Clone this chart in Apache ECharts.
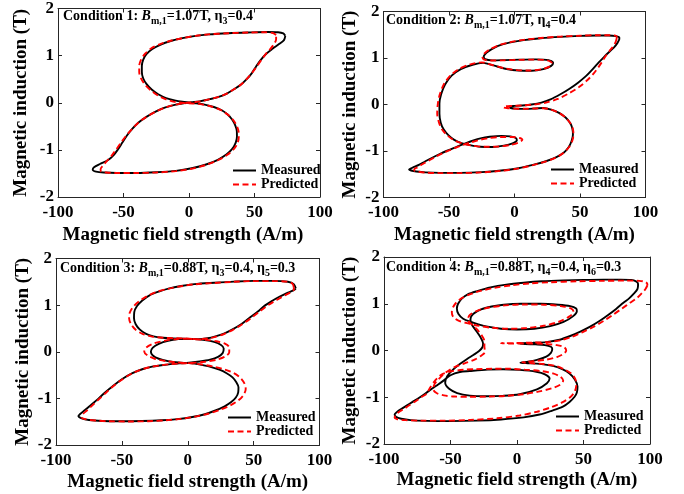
<!DOCTYPE html>
<html><head><meta charset="utf-8">
<script src="https://cdn.jsdelivr.net/npm/echarts@6/dist/echarts.min.js"></script>
<style>html,body{margin:0;padding:0;background:#fff;}#c{width:684px;height:494px;}</style>
</head><body><div id="c"></div>
<script>
// ---- tick values ----
const xTickValues = [-100, -50, 0, 50, 100];
const yTickValues = [-2, -1, 0, 1, 2];
const seriesNames = ['Measured', 'Predicted'];
const conditionTexts = [
  '{a|Condition 1: }{i|B}{s|m,1}{a|=1.07T, η}{s|3}{a|=0.4}',
  '{a|Condition 2: }{i|B}{s|m,1}{a|=1.07T, η}{s|4}{a|=0.4}',
  '{a|Condition 3: }{i|B}{s|m,1}{a|=0.88T, η}{s|3}{a|=0.4, η}{s|5}{a|=0.3}',
  '{a|Condition 4: }{i|B}{s|m,1}{a|=0.88T, η}{s|4}{a|=0.4, η}{s|6}{a|=0.3}'
];

// ---- data: [H (A/m), B (T)] ----
const measured1 = [[73.5,1.42],[72,1.47],[68,1.495],[60,1.50],[45,1.49],[30,1.475],[15,1.45],[5,1.42],[-5,1.37],[-14,1.31],[-22,1.23],[-28,1.14],[-32.5,1.03],[-35,0.91],[-36,0.78],[-36,0.65],[-35,0.52],[-32.5,0.40],[-28.5,0.28],[-23.5,0.18],[-17.5,0.10],[-11,0.05],[-5,0.02],[0,0.005],[5,-0.01],[12,-0.04],[19,-0.09],[25,-0.16],[29.5,-0.25],[33,-0.36],[35.3,-0.48],[36.5,-0.60],[36.6,-0.72],[35.6,-0.85],[33,-0.98],[28.5,-1.10],[22,-1.21],[13,-1.31],[2,-1.39],[-10,-1.445],[-25,-1.475],[-40,-1.49],[-55,-1.49],[-65,-1.48],[-71,-1.46],[-73.5,-1.42],[-72.5,-1.37],[-68,-1.30],[-62,-1.22],[-57.5,-1.11],[-54,-0.98],[-51,-0.85],[-47.5,-0.70],[-43.5,-0.56],[-38.5,-0.42],[-32.5,-0.30],[-25.5,-0.19],[-18,-0.10],[-10,-0.04],[-4,-0.01],[2,0.01],[8,0.03],[15,0.07],[22,0.12],[28.5,0.19],[34,0.28],[39.5,0.38],[44,0.50],[48,0.63],[51,0.76],[54.5,0.90],[59,1.04],[64,1.15],[69,1.25],[72.5,1.33],[73.5,1.42]];
const predicted1 = [[66.5,1.44],[64,1.48],[58,1.495],[45,1.49],[30,1.475],[15,1.45],[5,1.42],[-5,1.37],[-14,1.315],[-22.5,1.24],[-29,1.15],[-33.5,1.04],[-36.5,0.92],[-38,0.78],[-38,0.65],[-36.5,0.51],[-33.5,0.38],[-29,0.26],[-23.5,0.15],[-17.5,0.07],[-11,0.02],[-4,-0.005],[3,-0.015],[10,-0.035],[17,-0.08],[24,-0.15],[29.5,-0.25],[33.5,-0.36],[36.3,-0.48],[37.8,-0.60],[38,-0.72],[37,-0.86],[34,-0.99],[29,-1.11],[22,-1.22],[13,-1.32],[2,-1.40],[-10,-1.45],[-25,-1.48],[-40,-1.49],[-55,-1.49],[-63,-1.48],[-67,-1.46],[-67.5,-1.41],[-65.5,-1.33],[-62.5,-1.23],[-59,-1.12],[-55.5,-0.99],[-52,-0.85],[-48,-0.70],[-43.5,-0.56],[-38.5,-0.42],[-32.5,-0.30],[-25.5,-0.19],[-18,-0.10],[-10,-0.04],[-3,-0.01],[3,0.01],[9,0.03],[15,0.07],[22,0.12],[28.5,0.19],[34,0.28],[39.5,0.38],[44,0.50],[48,0.63],[51.5,0.76],[55,0.90],[58.5,1.03],[62,1.14],[65,1.25],[66.5,1.35],[66.5,1.44]];

const measured2 = [[80,1.40],[78.5,1.32],[76,1.23],[73,1.15],[70,1.07],[67,0.98],[63.5,0.88],[59,0.74],[54.5,0.61],[48.5,0.47],[42,0.34],[35,0.22],[27.5,0.11],[20.5,0.04],[13,0.0],[6,-0.02],[0,-0.03],[-3.5,-0.045],[-3,-0.075],[2,-0.09],[9,-0.095],[16,-0.085],[22,-0.075],[28,-0.11],[34,-0.18],[39,-0.28],[42.5,-0.40],[44.2,-0.52],[44.6,-0.65],[43.5,-0.79],[41.3,-0.92],[37.5,-1.04],[32,-1.13],[24,-1.22],[14,-1.30],[3,-1.37],[-10,-1.42],[-25,-1.455],[-42,-1.47],[-57,-1.47],[-68,-1.46],[-75,-1.44],[-79,-1.42],[-80.5,-1.40],[-78,-1.36],[-73,-1.30],[-68,-1.22],[-62.5,-1.14],[-57.5,-1.07],[-52,-1.00],[-47,-0.945],[-42,-0.885],[-37,-0.83],[-32,-0.78],[-26,-0.73],[-19,-0.695],[-10,-0.675],[-3,-0.685],[1,-0.72],[1.8,-0.77],[-1.5,-0.835],[-8,-0.885],[-17,-0.915],[-26,-0.91],[-34,-0.875],[-40.5,-0.83],[-46,-0.76],[-50.5,-0.66],[-54,-0.54],[-56.3,-0.39],[-57.3,-0.20],[-57.3,0.02],[-56,0.22],[-53,0.43],[-48,0.62],[-41,0.76],[-32,0.855],[-24,0.895],[-16,0.84],[-7,0.77],[3,0.73],[13,0.725],[22,0.76],[28,0.83],[29.5,0.90],[26,0.955],[16,0.97],[4,0.965],[-8,0.955],[-17,0.95],[-22.5,0.975],[-23.5,1.03],[-21.5,1.11],[-18,1.18],[-12.5,1.26],[-4,1.33],[7,1.385],[20,1.425],[35,1.455],[50,1.475],[63,1.485],[72,1.485],[77.5,1.47],[80,1.44],[80,1.40]];
const predicted2 = [[78,1.42],[77,1.33],[75,1.24],[72.5,1.15],[70,1.06],[67.5,0.95],[64.5,0.82],[60.5,0.67],[55.5,0.52],[49,0.37],[41.5,0.24],[33,0.12],[24,0.04],[15,0.0],[6,-0.02],[-2,-0.03],[-7,-0.04],[-8.5,-0.06],[-5,-0.08],[2,-0.09],[9,-0.09],[16,-0.085],[22,-0.08],[28,-0.11],[34,-0.18],[39,-0.28],[42.5,-0.40],[44.5,-0.52],[45,-0.65],[44,-0.79],[41.5,-0.92],[37.5,-1.04],[32,-1.135],[24,-1.225],[14,-1.305],[3,-1.375],[-10,-1.425],[-25,-1.46],[-42,-1.475],[-57,-1.475],[-67,-1.465],[-73,-1.445],[-76.5,-1.42],[-76.5,-1.39],[-74,-1.35],[-70,-1.28],[-65,-1.20],[-60,-1.12],[-55,-1.05],[-50,-0.985],[-45,-0.93],[-40,-0.875],[-34,-0.82],[-28,-0.77],[-20,-0.725],[-11,-0.70],[-2,-0.70],[4,-0.72],[6,-0.76],[3,-0.82],[-4,-0.875],[-13,-0.905],[-23,-0.91],[-32,-0.885],[-39.5,-0.84],[-46,-0.77],[-51,-0.67],[-55,-0.55],[-57.5,-0.40],[-59,-0.20],[-58.5,0.02],[-57,0.22],[-54,0.43],[-49,0.62],[-42,0.77],[-33,0.87],[-25,0.905],[-17,0.85],[-8,0.78],[2,0.74],[12,0.73],[21,0.76],[27,0.82],[28.5,0.89],[25,0.95],[15,0.965],[3,0.96],[-9,0.95],[-18,0.945],[-23.5,0.97],[-24.5,1.03],[-22.5,1.11],[-18.5,1.19],[-12.5,1.27],[-4,1.335],[7,1.39],[20,1.43],[35,1.46],[50,1.48],[63,1.49],[72,1.49],[76.5,1.485],[78,1.46],[78,1.42]];

const measured3 = [[82,1.36],[80.5,1.45],[76,1.50],[65,1.52],[50,1.52],[35,1.505],[20,1.48],[5,1.45],[-5,1.41],[-14,1.36],[-22,1.29],[-29,1.21],[-34.5,1.10],[-38.5,0.98],[-40.6,0.85],[-40.8,0.72],[-39.5,0.59],[-36.5,0.48],[-32,0.39],[-26,0.33],[-19,0.30],[-11,0.285],[-3,0.28],[5,0.27],[13,0.25],[20,0.21],[25,0.15],[27.3,0.07],[26.5,-0.03],[23,-0.11],[17,-0.17],[9,-0.21],[1,-0.235],[-6,-0.25],[-13,-0.265],[-20,-0.29],[-27,-0.32],[-34,-0.37],[-42,-0.46],[-50,-0.59],[-57,-0.74],[-63,-0.88],[-68,-1.01],[-73,-1.13],[-78,-1.25],[-81.5,-1.33],[-83,-1.38],[-80.5,-1.43],[-75,-1.465],[-65,-1.485],[-50,-1.49],[-35,-1.485],[-20,-1.47],[-8,-1.445],[3.5,-1.40],[13,-1.34],[21,-1.26],[28,-1.17],[33,-1.08],[36.5,-0.98],[38.3,-0.87],[38.5,-0.76],[37,-0.66],[34,-0.55],[29.5,-0.46],[24,-0.385],[16,-0.315],[8.5,-0.27],[1,-0.245],[-7,-0.23],[-15,-0.20],[-22,-0.15],[-26.5,-0.08],[-28,0.0],[-26.5,0.09],[-22,0.17],[-15,0.235],[-7,0.27],[0,0.275],[8,0.27],[15,0.29],[21,0.33],[27.5,0.39],[34,0.48],[40.5,0.59],[46.5,0.72],[53,0.86],[59,1.0],[64.5,1.10],[69.5,1.18],[74,1.24],[78,1.29],[81,1.33],[82,1.36]];
const predicted3 = [[80.5,1.38],[79.5,1.46],[75,1.505],[65,1.515],[50,1.515],[35,1.50],[20,1.475],[5,1.445],[-5,1.405],[-15,1.35],[-24,1.28],[-31,1.19],[-37,1.08],[-41.5,0.96],[-44,0.84],[-44.5,0.72],[-43,0.59],[-39.5,0.47],[-34,0.38],[-27,0.325],[-19,0.30],[-11,0.29],[-3,0.285],[5,0.27],[14,0.255],[22,0.225],[28.5,0.17],[31.5,0.09],[31.5,-0.01],[28.5,-0.10],[22,-0.17],[13,-0.215],[3,-0.24],[-5,-0.25],[-13,-0.265],[-20,-0.29],[-27,-0.32],[-34,-0.37],[-42,-0.46],[-50,-0.60],[-57,-0.75],[-62.5,-0.89],[-67.5,-1.02],[-72,-1.14],[-76.5,-1.26],[-80,-1.35],[-80.5,-1.41],[-77,-1.45],[-70,-1.475],[-60,-1.49],[-45,-1.495],[-30,-1.49],[-17,-1.47],[-5,-1.44],[6,-1.39],[16,-1.325],[25,-1.24],[33,-1.14],[39,-1.03],[42.5,-0.92],[44,-0.80],[43,-0.68],[40,-0.56],[35,-0.46],[28,-0.38],[19,-0.315],[10,-0.27],[1,-0.245],[-8,-0.23],[-17,-0.20],[-25,-0.15],[-30.5,-0.08],[-33,0.0],[-31.5,0.09],[-26,0.175],[-17,0.24],[-8,0.275],[0,0.28],[8,0.27],[15,0.285],[21,0.32],[27.5,0.38],[34,0.465],[40.5,0.575],[47,0.70],[53.5,0.84],[59.5,0.97],[65,1.07],[70,1.15],[74.5,1.22],[78.5,1.28],[80.5,1.33],[80.5,1.38]];

const measured4 = [[91,1.38],[90.5,1.31],[88,1.22],[84.5,1.12],[80,1.02],[74.5,0.89],[68.5,0.76],[62,0.63],[55,0.51],[48,0.41],[40,0.31],[32,0.23],[22,0.18],[12,0.165],[4.5,0.155],[2,0.15],[6,0.14],[14,0.13],[21,0.115],[25.5,0.08],[26.5,0.03],[25.5,-0.05],[22,-0.13],[15,-0.20],[7,-0.245],[2.5,-0.26],[8,-0.272],[17,-0.285],[27,-0.33],[34,-0.40],[39.5,-0.49],[43.5,-0.62],[45.5,-0.77],[45,-0.90],[43.3,-0.99],[39.5,-1.10],[34.5,-1.20],[26,-1.29],[17,-1.37],[5,-1.43],[-12,-1.475],[-30,-1.50],[-50,-1.51],[-68,-1.505],[-80,-1.49],[-87,-1.46],[-91,-1.42],[-92,-1.37],[-90,-1.31],[-87,-1.25],[-83,-1.18],[-78.5,-1.10],[-73,-1.00],[-67,-0.88],[-61,-0.76],[-55.5,-0.65],[-50,-0.53],[-43,-0.46],[-35.5,-0.44],[-22,-0.41],[-10.5,-0.40],[2,-0.415],[14.5,-0.455],[21,-0.51],[24.5,-0.60],[22.5,-0.70],[15,-0.83],[2,-0.935],[-10.5,-0.97],[-24,-0.98],[-35.5,-0.965],[-45,-0.91],[-51,-0.82],[-54,-0.69],[-52.5,-0.55],[-48.5,-0.42],[-43,-0.29],[-37.5,-0.18],[-32.5,-0.09],[-28.5,-0.01],[-26,0.07],[-25.5,0.15],[-26.8,0.25],[-29.2,0.36],[-32,0.47],[-34.2,0.57],[-35,0.67],[-33,0.78],[-27,0.88],[-19,0.94],[-10,0.98],[3,1.0],[18,1.0],[31,0.98],[40,0.95],[44.5,0.90],[45,0.84],[42,0.73],[35,0.61],[25,0.52],[13,0.465],[0,0.45],[-12,0.465],[-22,0.51],[-29,0.56],[-34.5,0.61],[-40.5,0.68],[-44,0.78],[-45.2,0.90],[-44.3,1.00],[-41.5,1.11],[-37,1.20],[-30,1.27],[-20,1.35],[-8,1.41],[5,1.45],[18.5,1.48],[35,1.50],[50,1.51],[65,1.515],[78,1.515],[86,1.51],[89.5,1.48],[91,1.43],[91,1.38]];
const predicted4 = [[98,1.39],[96.5,1.31],[94,1.23],[90.5,1.13],[85,1.02],[79,0.90],[72.5,0.77],[65,0.63],[57,0.50],[49,0.39],[41,0.29],[33,0.22],[24,0.18],[12,0.17],[0,0.16],[-12,0.155],[-4,0.15],[8,0.15],[20,0.14],[30,0.115],[35.5,0.07],[37,0.0],[35,-0.07],[30,-0.14],[22,-0.195],[12,-0.23],[4,-0.25],[10,-0.27],[20,-0.29],[29,-0.33],[36,-0.41],[41,-0.50],[44,-0.62],[44.5,-0.76],[43,-0.90],[39.5,-1.01],[34,-1.11],[26,-1.21],[15,-1.31],[2,-1.39],[-15,-1.45],[-35,-1.485],[-55,-1.50],[-72,-1.50],[-84,-1.49],[-90,-1.47],[-92,-1.43],[-91,-1.37],[-88,-1.30],[-84.5,-1.24],[-81,-1.17],[-76,-1.08],[-71.5,-0.99],[-67.75,-0.92],[-65.5,-0.80],[-61.5,-0.64],[-57,-0.52],[-50,-0.45],[-40,-0.41],[-31.5,-0.40],[-18,-0.39],[-6.5,-0.39],[6,-0.41],[18.5,-0.44],[27,-0.49],[32.5,-0.56],[34.75,-0.64],[32.5,-0.73],[26,-0.81],[16,-0.88],[5,-0.935],[-8,-0.97],[-22,-0.985],[-36,-0.99],[-47,-0.985],[-55,-0.96],[-60.5,-0.91],[-63,-0.83],[-62,-0.72],[-58.5,-0.60],[-53,-0.46],[-46.5,-0.35],[-39,-0.27],[-31.5,-0.19],[-27,-0.11],[-24,-0.03],[-24.5,0.08],[-24.5,0.2],[-26.5,0.32],[-30,0.45],[-34,0.56],[-37,0.66],[-35.5,0.76],[-30,0.85],[-21,0.92],[-9,0.965],[5,0.985],[20,0.98],[33,0.95],[40.5,0.9],[42.5,0.83],[39.5,0.73],[32,0.62],[21,0.535],[7,0.48],[-7,0.465],[-20,0.49],[-30,0.535],[-37.5,0.585],[-44,0.64],[-48,0.72],[-49,0.82],[-48,0.93],[-45.5,1.03],[-41.5,1.12],[-35.5,1.20],[-27.5,1.275],[-17,1.34],[-4,1.395],[10,1.435],[25,1.46],[45,1.48],[65,1.49],[82,1.495],[92,1.49],[96.5,1.465],[98,1.42],[98,1.39]];

const measuredAll = [measured1, measured2, measured3, measured4];
const predictedAll = [predicted1, predicted2, predicted3, predicted4];

// ---- layout ----
const FONT = "'Liberation Serif','Times New Roman',serif";
const AXC = '#262626';
const grids = [
  {left: 58, top: 8.5, width: 262, height: 188.5},
  {left: 383.5, top: 11.5, width: 262, height: 186},
  {left: 56, top: 258.5, width: 263.5, height: 186.5},
  {left: 384, top: 257, width: 266, height: 187}
];
const xNameGap = [28.5, 28, 27.5, 27];
const yNameGap = [27.5, 23.5, 23.5, 24.5];
const condPos = [[63, 16], [386, 20], [60, 268.5], [386, 267]];
const legendPos = [[232, 163.5], [550, 162.5], [227, 410.5], [555, 409.5]];

const xMin = xTickValues[0], xMax = xTickValues[xTickValues.length - 1], xInt = xTickValues[1] - xTickValues[0];
const yMin = yTickValues[0], yMax = yTickValues[yTickValues.length - 1], yInt = yTickValues[1] - yTickValues[0];

const xAxes = [], yAxes = [], series = [], legends = [], graphics = [];
for (let i = 0; i < 4; i++) {
  const common = {
    type: 'value', gridIndex: i,
    axisLine: {show: true, onZero: false, lineStyle: {color: AXC, width: 1}},
    axisTick: {show: true, inside: true, length: 4, lineStyle: {color: AXC, width: 1}},
    splitLine: {show: false}
  };
  xAxes.push(Object.assign({}, common, {
    position: 'bottom', min: xMin, max: xMax, interval: xInt,
    axisLabel: {show: true, margin: 7, fontFamily: FONT, fontWeight: 'bold', fontSize: 17, color: '#000'},
    name: 'Magnetic field strength (A/m)', nameLocation: 'middle', nameGap: xNameGap[i],
    nameTextStyle: {fontFamily: FONT, fontWeight: 'bold', fontSize: 19, color: '#000',
      padding: i === 0 ? [0, 12, 0, 0] : 0}
  }));
  yAxes.push(Object.assign({}, common, {
    position: 'left', min: yMin, max: yMax, interval: yInt,
    axisLabel: {show: true, margin: 4, fontFamily: FONT, fontWeight: 'bold', fontSize: 17, color: '#000'},
    name: 'Magnetic induction (T)', nameLocation: 'middle', nameGap: yNameGap[i], nameRotate: 90,
    nameTextStyle: {fontFamily: FONT, fontWeight: 'bold', fontSize: 19, color: '#000'}
  }));
}
for (let i = 0; i < 4; i++) {
  const common = {
    type: 'value', gridIndex: i,
    axisLine: {show: true, onZero: false, lineStyle: {color: AXC, width: 1}},
    axisTick: {show: true, inside: true, length: 4, lineStyle: {color: AXC, width: 1}},
    axisLabel: {show: false}, splitLine: {show: false}
  };
  xAxes.push(Object.assign({}, common, {position: 'top', min: xMin, max: xMax, interval: xInt}));
  yAxes.push(Object.assign({}, common, {position: 'right', min: yMin, max: yMax, interval: yInt}));
}
for (let i = 0; i < 4; i++) {
  series.push({
    type: 'line', name: seriesNames[0], xAxisIndex: i, yAxisIndex: i,
    data: measuredAll[i], symbol: 'none', showSymbol: false, smooth: 0.3,
    lineStyle: {color: '#000', width: 1.9}, itemStyle: {color: '#000'}, z: 2
  });
  series.push({
    type: 'line', name: seriesNames[1], xAxisIndex: i, yAxisIndex: i,
    data: predictedAll[i], symbol: 'none', showSymbol: false, smooth: 0.3,
    lineStyle: {color: '#ff0000', width: 1.9, type: [6, 3.5]}, itemStyle: {color: '#ff0000'}, z: 3
  });
  legends.push({
    data: seriesNames, orient: 'vertical', left: legendPos[i][0], top: legendPos[i][1],
    padding: 0, itemGap: 0, itemWidth: 23, itemHeight: 13, selectedMode: false,
    itemStyle: {opacity: 0},
    textStyle: {fontFamily: FONT, fontWeight: 'bold', fontSize: 14, color: '#000', lineHeight: 13.5}
  });
  graphics.push({
    type: 'text', x: condPos[i][0], y: condPos[i][1], z: 10,
    style: {
      text: conditionTexts[i], verticalAlign: 'middle', align: 'left',
      rich: {
        a: {fontFamily: FONT, fontWeight: 'bold', fontSize: 14, fill: '#000', lineHeight: 20, verticalAlign: 'middle'},
        i: {fontFamily: FONT, fontWeight: 'bold', fontStyle: 'italic', fontSize: 14, fill: '#000', lineHeight: 20, verticalAlign: 'middle'},
        s: {fontFamily: FONT, fontWeight: 'bold', fontSize: 10, fill: '#000', lineHeight: 10, verticalAlign: 'bottom'}
      }
    }
  });
}

const chart = echarts.init(document.getElementById('c'), null, {renderer: 'canvas'});
chart.setOption({
  animation: false,
  backgroundColor: '#fff',
  grid: grids.map(g => Object.assign({containLabel: false}, g)),
  xAxis: xAxes, yAxis: yAxes,
  legend: legends,
  series: series,
  graphic: graphics
});
</script></body></html>
